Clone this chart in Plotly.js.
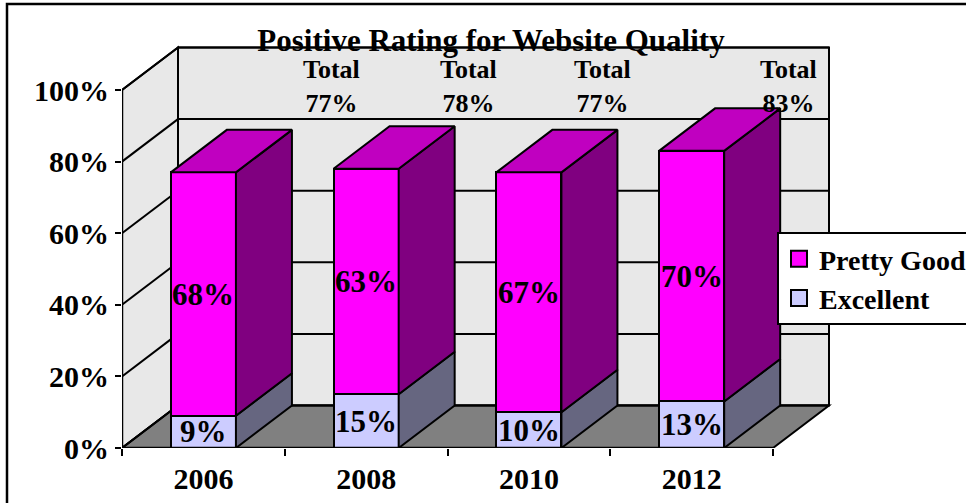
<!DOCTYPE html>
<html><head><meta charset="utf-8">
<script src="https://cdn.plot.ly/plotly-3.0.1.min.js"></script>
<style>html,body{margin:0;padding:0;background:#fff}#chart{width:966px;height:503px}</style>
</head><body><div id="chart"></div>
<script>
// ---- data ----
const years = ['2006', '2008', '2010', '2012'];
const excellent = [9, 15, 10, 13];
const prettyGood = [68, 63, 67, 70];
const yTicks = [0, 20, 40, 60, 80, 100];
const seriesNames = ['Excellent', 'Pretty Good'];

// ---- geometry / style ----
const L = 122, T = 40, W = 718, H = 408;
const pxPerX = 162.75, pxPerY = 3.58;
const X0 = -0.5, X1 = 3.5;
const DX = 56 / pxPerX, DY = 42.5 / pxPerY;
const BW = 0.4;
const FONT = 'Liberation Serif, Times New Roman, serif';
const WALL = '#E8E8E8', FLOOR = '#808080';
const COL = {
  exFront: '#CCCCFF', exSide: '#666680',
  pgFront: '#FF00FF', pgSide: '#800080', pgTop: '#C000C0'
};
const xs = years.map((_, i) => i);
const totals = excellent.map((e, i) => e + prettyGood[i]);

const shapes = [];
// left wall
shapes.push({type: 'path', layer: 'below', xref: 'x', yref: 'y',
  path: `M${X0},0 L${X0},100 L${X0 + DX},${100 + DY} L${X0 + DX},${DY} Z`,
  fillcolor: WALL, line: {color: '#000', width: 2}});
// back wall
shapes.push({type: 'rect', layer: 'below', xref: 'x', yref: 'y',
  x0: X0 + DX, x1: X1 + DX, y0: DY, y1: 100 + DY,
  fillcolor: WALL, line: {color: '#000', width: 2}});
// floor
shapes.push({type: 'path', layer: 'below', xref: 'x', yref: 'y',
  path: `M${X0},0 L${X1},0 L${X1 + DX},${DY} L${X0 + DX},${DY} Z`,
  fillcolor: FLOOR, line: {color: '#000', width: 2}});
// gridlines
yTicks.forEach(v => {
  shapes.push({type: 'line', layer: 'below', xref: 'x', yref: 'y',
    x0: X0 + DX, x1: X1 + DX, y0: v + DY, y1: v + DY, line: {color: '#000', width: 2}});
  shapes.push({type: 'line', layer: 'below', xref: 'x', yref: 'y',
    x0: X0, x1: X0 + DX, y0: v, y1: v + DY, line: {color: '#000', width: 2}});
});
// front axis lines
shapes.push({type: 'line', xref: 'x', yref: 'y', x0: X0, x1: X0, y0: 0, y1: 100, line: {color: '#000', width: 2.5}});
shapes.push({type: 'line', xref: 'x', yref: 'y', x0: X0, x1: X1, y0: 0, y1: 0, line: {color: '#000', width: 2.5}});
// outer frame
shapes.push({type: 'rect', xref: 'paper', yref: 'paper',
  x0: (7 - L) / W, x1: (1000 - L) / W, y0: -0.3, y1: (T + H - 4) / H,
  line: {color: '#000', width: 2.5}, fillcolor: 'rgba(0,0,0,0)'});

function sidePoly(vals, bases) {
  const x = [], y = [];
  vals.forEach((v, i) => {
    const b = bases[i], t = b + v, xr = i + BW / 2;
    x.push(xr, xr + DX, xr + DX, xr, xr, null);
    y.push(b, b + DY, t + DY, t, b, null);
  });
  return {x, y};
}
function topPoly(vals, bases) {
  const x = [], y = [];
  vals.forEach((v, i) => {
    const t = bases[i] + v, xl = i - BW / 2, xr = i + BW / 2;
    x.push(xl, xl + DX, xr + DX, xr, xl, null);
    y.push(t, t + DY, t + DY, t, t, null);
  });
  return {x, y};
}
const zeros = excellent.map(() => 0);
const exSide = sidePoly(excellent, zeros);
const pgSide = sidePoly(prettyGood, excellent);
const pgTop = topPoly(prettyGood, excellent);

const polyStyle = (fc) => ({type: 'scatter', mode: 'lines', fill: 'toself', fillcolor: fc,
  line: {color: '#000', width: 2}, hoverinfo: 'skip', showlegend: false});

const data = [
  {type: 'bar', name: seriesNames[0], x: xs, y: excellent, width: BW,
   marker: {color: COL.exFront, line: {color: '#000', width: 2}}, showlegend: false, hoverinfo: 'skip'},
  {type: 'bar', name: seriesNames[1], x: xs, y: prettyGood, width: BW,
   marker: {color: COL.pgFront, line: {color: '#000', width: 2}}, showlegend: false, hoverinfo: 'skip'},
  Object.assign(polyStyle(COL.exSide), exSide),
  Object.assign(polyStyle(COL.pgSide), pgSide),
  Object.assign(polyStyle(COL.pgTop), pgTop),
  // legend entries
  {type: 'scatter', mode: 'markers', x: [null], y: [null], name: seriesNames[1], legendrank: 1,
   marker: {symbol: 'square', size: 16, color: COL.pgFront, line: {color: '#000', width: 2}}},
  {type: 'scatter', mode: 'markers', x: [null], y: [null], name: seriesNames[0], legendrank: 2,
   marker: {symbol: 'square', size: 16, color: COL.exFront, line: {color: '#000', width: 2}}},
  // boundary ticks on x
  {type: 'scatter', x: [null], y: [null], xaxis: 'x2', showlegend: false, hoverinfo: 'skip'}
];

const annotations = [];
excellent.forEach((e, i) => {
  annotations.push({xref: 'x', yref: 'y', x: i, y: e / 2, text: e + '%', showarrow: false,
    font: {family: FONT, size: 31, weight: 'bold', color: '#000'}, xanchor: 'center', yanchor: 'middle'});
  annotations.push({xref: 'x', yref: 'y', x: i, y: e + prettyGood[i] / 2, text: prettyGood[i] + '%', showarrow: false,
    font: {family: FONT, size: 31, weight: 'bold', color: '#000'}, xanchor: 'center', yanchor: 'middle'});
});
const totalLabelPx = [331, 468, 602, 788];
totals.forEach((t, i) => {
  annotations.push({xref: 'x', yref: 'y', x: X0 + (totalLabelPx[i] - L) / pxPerX, y: (T + H - 86) / pxPerY,
    text: 'Total<br>' + t + '%', showarrow: false, align: 'center',
    font: {family: FONT, size: 26, weight: 'bold', color: '#000'}, xanchor: 'center', yanchor: 'middle'});
});

const layout = {
  width: 966, height: 503,
  margin: {l: L, r: 966 - L - W, t: T, b: 503 - T - H, autoexpand: false},
  paper_bgcolor: '#fff', plot_bgcolor: 'rgba(0,0,0,0)',
  barmode: 'stack',
  title: {text: 'Positive Rating for Website Quality', font: {family: FONT, size: 31, weight: 'bold', color: '#000'},
    x: 491 / 966, xref: 'container', xanchor: 'center', y: 1 - 40 / 503, yref: 'container', yanchor: 'middle'},
  xaxis: {range: [X0, X0 + W / pxPerX], tickvals: xs, ticktext: years, ticks: '', showgrid: false, zeroline: false,
    showline: false, tickfont: {family: FONT, size: 30, weight: 'bold', color: '#000'}, ticklabelstandoff: 10, fixedrange: true},
  xaxis2: {overlaying: 'x', matches: 'x', side: 'bottom', range: [X0, X0 + W / pxPerX], tickvals: [-0.5, 0.5, 1.5, 2.5, 3.5],
    ticks: 'outside', ticklen: 7, tickwidth: 2, tickcolor: '#000', showticklabels: false, showgrid: false, zeroline: false, showline: false},
  yaxis: {range: [0, H / pxPerY], tickvals: yTicks, ticktext: yTicks.map(v => v + '%'), ticks: 'outside', ticklen: 6, tickwidth: 2,
    tickcolor: '#000', showgrid: false, zeroline: false, showline: false,
    tickfont: {family: FONT, size: 30, weight: 'bold', color: '#000'}, fixedrange: true},
  legend: {x: (777 - L) / W, y: (T + H - 232) / H, xanchor: 'left', yanchor: 'top', bgcolor: '#fff',
    bordercolor: '#000', borderwidth: 2, font: {family: FONT, size: 28, weight: 'bold', color: '#000'}, traceorder: 'normal'},
  shapes, annotations,
  showlegend: true
};
Plotly.newPlot('chart', data, layout, {displayModeBar: false, staticPlot: true});
</script></body></html>
